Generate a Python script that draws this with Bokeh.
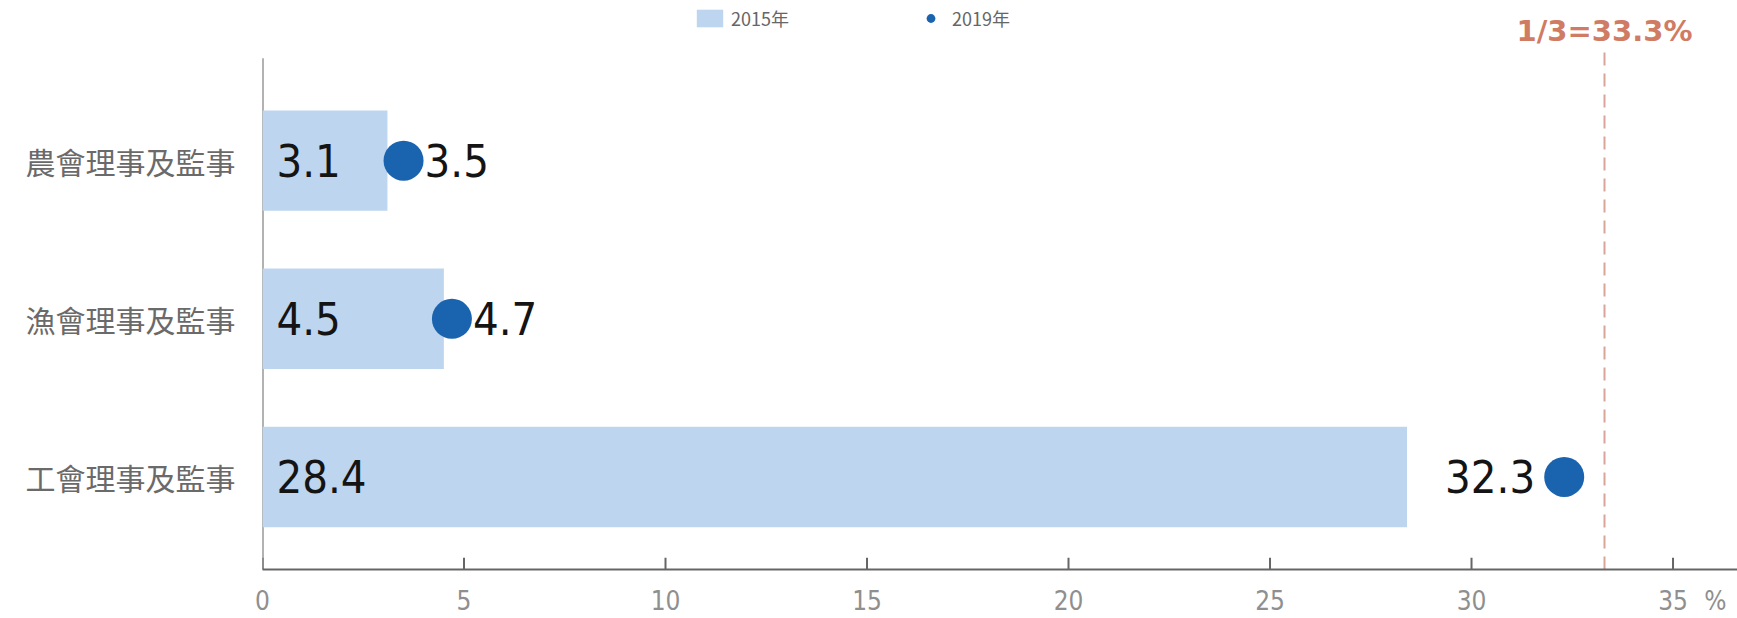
from bokeh.plotting import figure
from bokeh.models import Range1d, FixedTicker, Label, ColumnDataSource, Legend, LegendItem
from bokeh.core.properties import value
from bokeh.embed import file_html
from bokeh.resources import INLINE

categories = ["農會理事及監事", "漁會理事及監事", "工會理事及監事"]
year_bar = "2015年"
year_dot = "2019年"
bar_values = [3.1, 4.5, 28.4]
dot_values = [3.5, 4.7, 32.3]
threshold = 33.3
threshold_label = "1/3=33.3%"
x_ticks = [0, 5, 10, 15, 20, 25, 30, 35]
unit_label = "%"
unit_pos = 36.05

ypos = [3, 2, 1]
dot_side = ["right", "right", "left"]
y_lo, y_hi = 0.415, 4.0126
axis_top = max(ypos) + 0.648
ref_top = max(ypos) + 0.717
tick_len = 0.075

src = ColumnDataSource(dict(
    y=ypos, bar=bar_values, dot=dot_values,
    bar_txt=[f"{v:.1f}" for v in bar_values],
))

p = figure(width=1737, height=618, output_backend="svg", toolbar_location=None,
           x_range=Range1d(0, 36.6), y_range=Range1d(y_lo, y_hi),
           min_border_left=262, min_border_right=0, min_border_top=0, min_border_bottom=46)
p.outline_line_color = None
p.grid.visible = False
p.background_fill_color = "white"

# y axis line (from the lowest range edge up to just above the top category)
p.segment(x0=[0], y0=[y_lo], x1=[0], y1=[axis_top], line_color="#666666", line_width=2)
# x axis tick marks, pointing inward
p.segment(x0=x_ticks, y0=[y_lo] * len(x_ticks), x1=x_ticks,
          y1=[y_lo + tick_len] * len(x_ticks), line_color="#666666", line_width=2)

bar_r = p.hbar(y="y", left=0, right="bar", height=0.635, source=src,
               fill_color="#bdd5ee", line_color=None)
dot_r = p.scatter(x="dot", y="y", size=40, source=src, fill_color="#1a63ae", line_color=None)

NUM_FONT = "DejaVu Sans Condensed"
p.text(x=0, y="y", text="bar_txt", source=src, x_offset=14, text_align="left",
       text_baseline="middle", text_font=value(NUM_FONT), text_font_size="45px",
       text_color="#141414")

for i in range(len(categories)):
    right = dot_side[i] == "right"
    p.add_layout(Label(x=dot_values[i], y=ypos[i], text=f"{dot_values[i]:.1f}",
                       x_offset=21 if right else -29,
                       text_align="left" if right else "right", text_baseline="middle",
                       text_font=NUM_FONT, text_font_size="45px", text_color="#141414"))

p.segment(x0=[threshold], y0=[y_lo], x1=[threshold], y1=[ref_top],
          line_color="#d9a49a", line_width=2, line_dash="13 8")
p.add_layout(Label(x=threshold, y=3.818, text=threshold_label, text_align="center",
                   text_baseline="middle", text_font="DejaVu Sans", text_font_style="bold",
                   text_font_size="29px", text_color="#d07c64"))

# x axis
xa = p.xaxis[0]
xa.ticker = FixedTicker(ticks=x_ticks + [unit_pos])
xa.major_label_overrides = {unit_pos: unit_label}
xa.axis_line_color = "#666666"
xa.axis_line_width = 2
xa.major_tick_in = 0
xa.major_tick_out = 0
xa.minor_tick_line_color = None
xa.major_label_standoff = 16
xa.major_label_text_font = NUM_FONT
xa.major_label_text_font_size = "26px"
xa.major_label_text_color = "#8f8f8f"

# y axis
ya = p.yaxis[0]
ya.ticker = FixedTicker(ticks=ypos)
ya.major_label_overrides = {yv: c for yv, c in zip(ypos, categories)}
ya.axis_line_color = None
ya.major_tick_line_color = None
ya.minor_tick_line_color = None
ya.major_label_standoff = 21
ya.major_label_text_font = "Noto Sans CJK TC"
ya.major_label_text_font_size = "30px"
ya.major_label_text_color = "#6a6a6a"

legend = Legend(items=[LegendItem(label=year_bar, renderers=[bar_r]),
                       LegendItem(label=year_dot, renderers=[dot_r])],
                orientation="horizontal", location=(431, 538),
                label_text_font="Noto Sans CJK TC", label_text_font_size="18px",
                label_text_color="#666666", glyph_width=33, glyph_height=22,
                spacing=125, padding=0, margin=0, border_line_color=None,
                background_fill_alpha=0)
p.add_layout(legend, "center")

open("out.html", "w").write(file_html(p, INLINE))
